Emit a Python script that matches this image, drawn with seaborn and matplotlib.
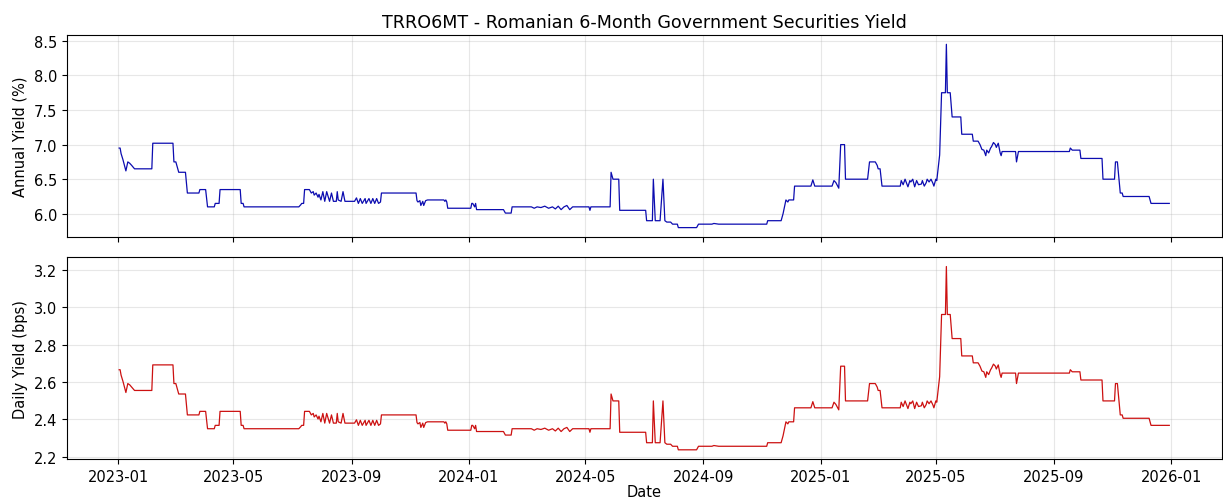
import numpy as np
import pandas as pd
import matplotlib
matplotlib.use('Agg')
import matplotlib.pyplot as plt
import matplotlib.dates as mdates
import seaborn as sns

# TRRO6MT readings, days counted from 2023-01-01
start_date = '2023-01-01'
day_offset = [1, 2, 3, 5, 8, 10, 12, 14, 17, 35, 36, 57, 58, 60, 61, 63, 70, 72, 84, 85,
              91, 93, 100, 101, 105, 106, 127, 128, 130, 131, 188, 190, 191, 193, 194, 199, 201, 203, 204, 206,
              208, 209, 211, 213, 215, 217, 220, 222, 224, 227, 228, 229, 232, 234, 236, 246, 248, 250, 252, 254,
              257, 258, 261, 263, 265, 267, 269, 271, 273, 274, 310, 311, 312, 314, 315, 317, 318, 320, 322, 339,
              340, 341, 342, 343, 367, 368, 369, 371, 372, 373, 401, 403, 409, 410, 430, 433, 436, 440, 444, 448,
              452, 455, 458, 461, 464, 467, 470, 473, 490, 491, 492, 512, 513, 515, 521, 522, 549, 550, 556, 557,
              559, 564, 567, 569, 571, 575, 577, 582, 583, 602, 604, 618, 620, 625, 675, 676, 690, 692, 695, 697,
              698, 703, 704, 721, 723, 725, 743, 745, 747, 750, 752, 756, 757, 780, 782, 788, 790, 791, 793, 795,
              814, 815, 817, 819, 822, 824, 825, 827, 829, 831, 833, 836, 837, 839, 841, 842, 844, 846, 848, 849,
              851, 852, 855, 857, 861, 862, 863, 866, 868, 877, 878, 889, 890, 895, 897, 899, 901, 903, 904, 906,
              908, 909, 911, 913, 914, 916, 918, 919, 920, 934, 935, 937, 990, 991, 993, 1001, 1002, 1024, 1025, 1037,
              1038, 1040, 1043, 1045, 1046, 1073, 1075, 1094]

annual_yield = [6.95, 6.95, 6.87, 6.78, 6.62, 6.75, 6.73, 6.70, 6.65, 6.65, 7.02, 7.02, 6.75, 6.75, 6.70, 6.60, 6.60, 6.30, 6.30, 6.35,
                6.35, 6.10, 6.10, 6.15, 6.15, 6.35, 6.35, 6.15, 6.15, 6.10, 6.10, 6.13, 6.15, 6.15, 6.35, 6.35, 6.30, 6.32, 6.27, 6.30,
                6.24, 6.28, 6.20, 6.32, 6.18, 6.32, 6.18, 6.30, 6.18, 6.18, 6.32, 6.20, 6.18, 6.32, 6.18, 6.18, 6.23, 6.15, 6.22, 6.15,
                6.22, 6.15, 6.22, 6.15, 6.22, 6.15, 6.22, 6.15, 6.17, 6.30, 6.30, 6.19, 6.17, 6.19, 6.12, 6.18, 6.12, 6.19, 6.20, 6.20,
                6.18, 6.20, 6.17, 6.08, 6.08, 6.15, 6.15, 6.10, 6.15, 6.06, 6.06, 6.01, 6.01, 6.10, 6.10, 6.08, 6.10, 6.09, 6.11, 6.08,
                6.10, 6.07, 6.11, 6.06, 6.10, 6.12, 6.06, 6.10, 6.10, 6.05, 6.10, 6.10, 6.60, 6.50, 6.50, 6.05, 6.05, 5.90, 5.90, 6.50,
                5.90, 5.90, 6.50, 5.90, 5.88, 5.88, 5.85, 5.85, 5.80, 5.80, 5.85, 5.85, 5.86, 5.85, 5.85, 5.90, 5.90, 6.00, 6.20, 6.17,
                6.20, 6.20, 6.40, 6.40, 6.49, 6.40, 6.40, 6.48, 6.45, 6.37, 7.00, 7.00, 6.50, 6.50, 6.75, 6.75, 6.70, 6.65, 6.65, 6.40,
                6.40, 6.48, 6.42, 6.50, 6.39, 6.48, 6.46, 6.50, 6.39, 6.48, 6.42, 6.43, 6.48, 6.40, 6.45, 6.50, 6.46, 6.50, 6.44, 6.40,
                6.50, 6.48, 6.85, 7.75, 7.75, 8.45, 7.75, 7.75, 7.40, 7.40, 7.15, 7.15, 7.05, 7.05, 7.00, 6.93, 6.92, 6.84, 6.92, 6.88,
                6.95, 6.97, 7.03, 7.00, 6.96, 7.02, 6.88, 6.84, 6.90, 6.90, 6.75, 6.90, 6.90, 6.95, 6.92, 6.92, 6.80, 6.80, 6.50, 6.50,
                6.75, 6.75, 6.30, 6.30, 6.25, 6.25, 6.15, 6.15]

daily_yield_bps = [2.666, 2.666, 2.637, 2.603, 2.544, 2.592, 2.585, 2.573, 2.555, 2.555, 2.692, 2.692, 2.592, 2.592, 2.573, 2.536, 2.536, 2.424, 2.424, 2.443,
                   2.443, 2.350, 2.350, 2.368, 2.368, 2.443, 2.443, 2.368, 2.368, 2.350, 2.350, 2.361, 2.368, 2.368, 2.443, 2.443, 2.424, 2.432, 2.413, 2.424,
                   2.402, 2.417, 2.387, 2.432, 2.380, 2.432, 2.380, 2.424, 2.380, 2.380, 2.432, 2.387, 2.380, 2.432, 2.380, 2.380, 2.398, 2.368, 2.395, 2.368,
                   2.395, 2.368, 2.395, 2.368, 2.395, 2.368, 2.395, 2.368, 2.376, 2.424, 2.424, 2.383, 2.376, 2.383, 2.357, 2.380, 2.357, 2.383, 2.387, 2.387,
                   2.380, 2.387, 2.376, 2.342, 2.342, 2.368, 2.368, 2.350, 2.368, 2.335, 2.335, 2.316, 2.316, 2.350, 2.350, 2.342, 2.350, 2.346, 2.353, 2.342,
                   2.350, 2.338, 2.353, 2.335, 2.350, 2.357, 2.335, 2.350, 2.350, 2.331, 2.350, 2.350, 2.536, 2.499, 2.499, 2.331, 2.331, 2.275, 2.275, 2.499,
                   2.275, 2.275, 2.499, 2.275, 2.267, 2.267, 2.256, 2.256, 2.237, 2.237, 2.256, 2.256, 2.260, 2.256, 2.256, 2.275, 2.275, 2.312, 2.387, 2.376,
                   2.387, 2.387, 2.462, 2.462, 2.495, 2.462, 2.462, 2.492, 2.480, 2.451, 2.685, 2.685, 2.499, 2.499, 2.592, 2.592, 2.573, 2.555, 2.555, 2.462,
                   2.462, 2.492, 2.469, 2.499, 2.458, 2.492, 2.484, 2.499, 2.458, 2.492, 2.469, 2.473, 2.492, 2.462, 2.480, 2.499, 2.484, 2.499, 2.477, 2.462,
                   2.499, 2.492, 2.629, 2.962, 2.962, 3.219, 2.962, 2.962, 2.833, 2.833, 2.740, 2.740, 2.703, 2.703, 2.685, 2.659, 2.655, 2.625, 2.655, 2.640,
                   2.666, 2.674, 2.696, 2.685, 2.670, 2.692, 2.640, 2.625, 2.648, 2.648, 2.592, 2.648, 2.648, 2.666, 2.655, 2.655, 2.611, 2.611, 2.499, 2.499,
                   2.592, 2.592, 2.424, 2.424, 2.406, 2.406, 2.368, 2.368]

df = pd.DataFrame({
    'Date': pd.Timestamp(start_date) + pd.to_timedelta(day_offset, unit='D'),
    'annual': annual_yield,
    'daily': daily_yield_bps,
})

plt.rcParams['font.size'] = 10.5

fig, (ax1, ax2) = plt.subplots(2, 1, figsize=(12.23, 5.02), dpi=100, sharex=True)
fig.subplots_adjust(left=0.0545, right=0.999, top=0.928, bottom=0.0837, hspace=0.102)

sns.lineplot(data=df, x='Date', y='annual', ax=ax1, color='#0c0cb0', linewidth=0.9)
ax1.set_title('TRRO6MT - Romanian 6-Month Government Securities Yield', fontsize=12.6)
ax1.set_ylabel('Annual Yield (%)')
ax1.grid(True, alpha=0.3)

sns.lineplot(data=df, x='Date', y='daily', ax=ax2, color='#cc1111', linewidth=0.9)
ax2.set_ylabel('Daily Yield (bps)')
ax2.set_xlabel('Date', labelpad=0.5)
ax2.grid(True, alpha=0.3)

ax2.xaxis.set_major_locator(mdates.MonthLocator(bymonth=[1, 5, 9]))
ax2.xaxis.set_major_formatter(mdates.DateFormatter('%Y-%m'))

plt.savefig('out.png', dpi=100)
